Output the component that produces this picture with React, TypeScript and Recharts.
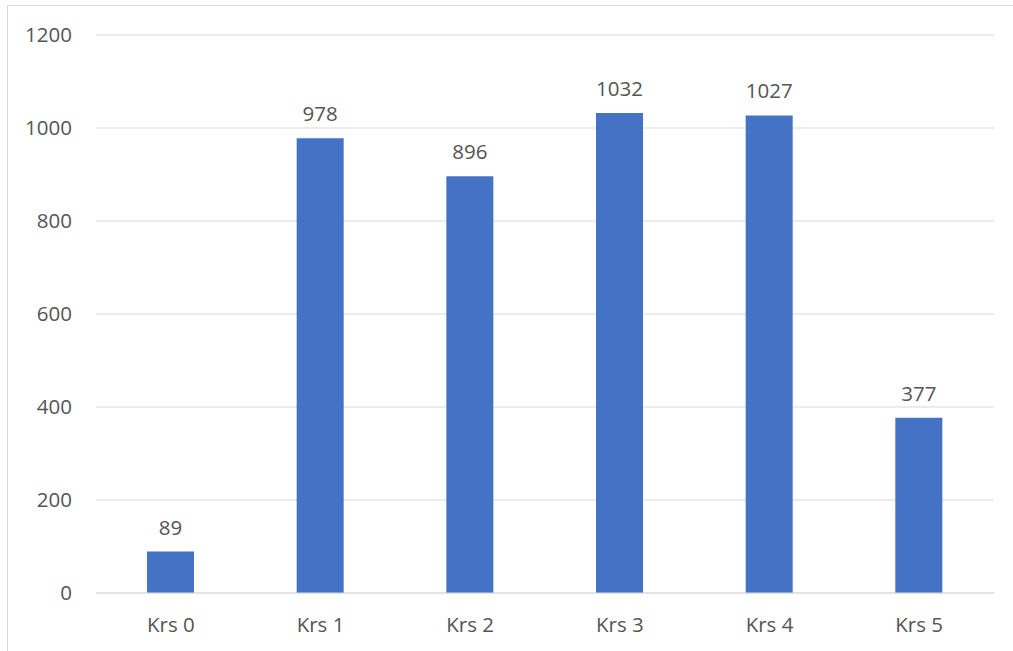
import React from "react";
import { BarChart, Bar, XAxis, YAxis, CartesianGrid, LabelList } from "recharts";

// Students per year level
const categories = ["Krs 0", "Krs 1", "Krs 2", "Krs 3", "Krs 4", "Krs 5"];
const counts = [89, 978, 896, 1032, 1027, 377];
const yTicks = [0, 200, 400, 600, 800, 1000, 1200];

const data = categories.map((name, i) => ({ name, value: counts[i] }));

const FONT = "'Open Sans', 'Liberation Sans', sans-serif";
const TEXT = "#555555";
const GRID = "#d9d9d9";

export default function App() {
  return (
    <div
      style={{
        position: "fixed",
        left: 0,
        top: 0,
        width: 1013,
        height: 651,
        overflow: "hidden",
        background: "#ffffff",
        fontFamily: FONT,
      }}
    >
      <div
        style={{
          position: "absolute",
          left: 7,
          top: 5,
          width: 1040,
          height: 700,
          border: `1.5px solid ${GRID}`,
          boxSizing: "border-box",
        }}
      />
      <div style={{ position: "absolute", left: 0, top: 0 }}>
        <BarChart
          width={1013}
          height={651}
          data={data}
          margin={{ top: 35, right: 19, left: 0, bottom: 18 }}
        >
          <CartesianGrid vertical={false} stroke={GRID} strokeWidth={1.2} />
          <XAxis
            dataKey="name"
            axisLine={{ stroke: GRID, strokeWidth: 1.2 }}
            tickLine={false}
            height={40}
            tickMargin={18}
            tick={{ fill: TEXT, fontSize: 20.5, fontFamily: FONT }}
          />
          <YAxis
            domain={[0, 1200]}
            ticks={yTicks}
            width={96}
            axisLine={false}
            tickLine={false}
            tickMargin={18}
            tick={{ fill: TEXT, fontSize: 20.5, fontFamily: FONT }}
          />
          <Bar dataKey="value" fill="#4472C4" barSize={47} isAnimationActive={false}>
            <LabelList
              dataKey="value"
              position="top"
              offset={17}
              style={{ fill: TEXT, fontSize: 20.5, fontFamily: FONT }}
            />
          </Bar>
        </BarChart>
      </div>
    </div>
  );
}
